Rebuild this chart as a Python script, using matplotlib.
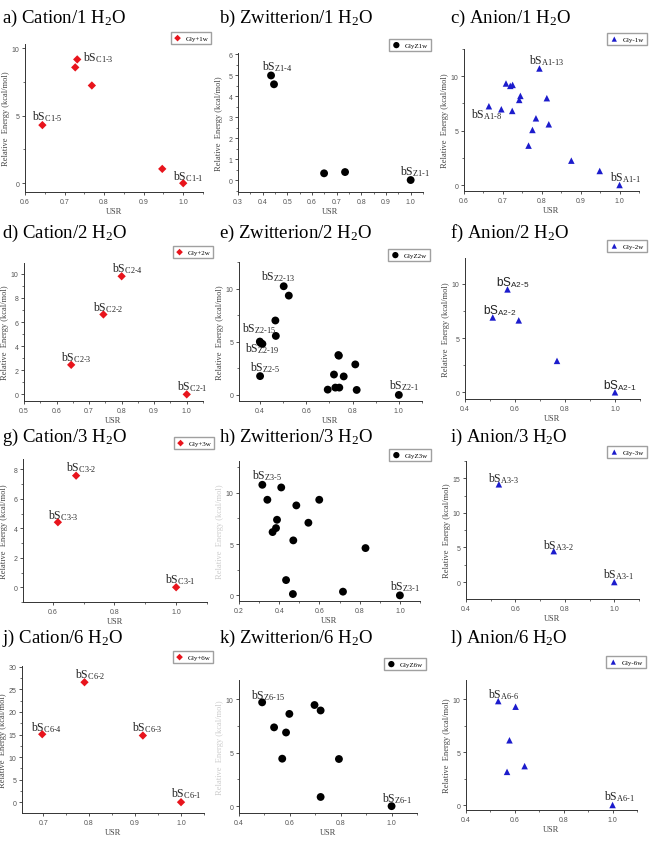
import matplotlib
matplotlib.use("Agg")
import matplotlib.pyplot as plt
from matplotlib.ticker import MultipleLocator, AutoMinorLocator

plt.rcParams['font.family'] = ['Liberation Serif', 'DejaVu Serif']
plt.rcParams['mathtext.fontset'] = 'custom'
plt.rcParams['mathtext.rm'] = 'Liberation Serif'
plt.rcParams['mathtext.it'] = 'Liberation Serif:italic'
plt.rcParams['mathtext.sf'] = 'Liberation Sans'

W, H = 653, 845

# ---- data ----
# a) Cation / 1 H2O
c1_usr = [0.644, 0.727, 0.732, 0.769, 0.947, 1.0]
c1_e = [4.3, 8.57, 9.16, 7.23, 1.06, 0.0]
# b) Zwitterion / 1 H2O
z1_usr = [0.434, 0.446, 0.649, 0.734, 1.0]
z1_e = [4.98, 4.56, 0.32, 0.38, 0.0]
# c) Anion / 1 H2O
a1_usr = [0.664, 0.696, 0.708, 0.719, 0.725, 0.724, 0.742, 0.745, 0.785,
          0.776, 0.766, 0.794, 0.813, 0.818, 0.876, 0.949, 1.0]
a1_e = [7.24, 6.96, 9.33, 9.11, 9.2, 6.81, 7.82, 8.19, 6.13,
        5.06, 3.62, 10.71, 7.98, 5.58, 2.24, 1.29, 0.0]
# d) Cation / 2 H2O
c2_usr = [0.645, 0.744, 0.8, 1.0]
c2_e = [2.45, 6.63, 9.8, 0.0]
# e) Zwitterion / 2 H2O
z2_usr = [0.503, 0.525, 0.467, 0.469, 0.4, 0.403, 0.411, 0.401, 0.739, 0.741,
          0.812, 0.72, 0.762, 0.693, 0.726, 0.743, 0.818, 1.0]
z2_e = [10.22, 9.34, 7.0, 5.55, 5.02, 4.89, 4.8, 1.77, 3.75, 3.69,
        2.87, 1.92, 1.74, 0.5, 0.69, 0.69, 0.47, 0.0]
# f) Anion / 2 H2O
a2_usr = [0.57, 0.511, 0.615, 0.768, 1.0]
a2_e = [9.5, 6.91, 6.64, 2.9, 0.0]
# g) Cation / 3 H2O
c3_usr = [0.676, 0.617, 1.0]
c3_e = [7.57, 4.41, 0.0]
# h) Zwitterion / 3 H2O
z3_usr = [0.316, 0.41, 0.341, 0.485, 0.599, 0.389, 0.384, 0.367, 0.545,
          0.47, 0.829, 0.434, 0.468, 0.717, 1.0]
z3_e = [10.78, 10.52, 9.32, 8.77, 9.32, 7.37, 6.56, 6.17, 7.08,
        5.36, 4.61, 1.49, 0.13, 0.36, 0.0]
# i) Anion / 3 H2O
a3_usr = [0.533, 0.755, 1.0]
a3_e = [14.13, 4.47, 0.0]
# j) Cation / 6 H2O
c6_usr = [0.698, 0.79, 0.917, 1.0]
c6_e = [15.07, 26.6, 14.78, 0.0]
# k) Zwitterion / 6 H2O
z6_usr = [0.491, 0.538, 0.585, 0.57, 0.598, 0.697, 0.721, 0.721, 0.793, 1.0]
z6_e = [9.71, 7.37, 6.89, 4.44, 8.63, 9.46, 8.95, 0.86, 4.41, 0.0]
# l) Anion / 6 H2O
a6_usr = [0.532, 0.603, 0.578, 0.568, 0.64, 1.0]
a6_e = [9.81, 9.28, 6.11, 3.13, 3.67, 0.0]

titles = ["a) Cation/1 H$_2$O", "b) Zwitterion/1 H$_2$O", "c) Anion/1 H$_2$O",
          "d) Cation/2 H$_2$O", "e) Zwitterion/2 H$_2$O", "f) Anion/2 H$_2$O",
          "g) Cation/3 H$_2$O", "h) Zwitterion/3 H$_2$O", "i) Anion/3 H$_2$O",
          "j) Cation/6 H$_2$O", "k) Zwitterion/6 H$_2$O", "l) Anion/6 H$_2$O"]
legends = ["Gly+1w", "GlyZ1w", "Gly-1w", "Gly+2w", "GlyZ2w", "Gly-2w",
           "Gly+3w", "GlyZ3w", "Gly-3w", "Gly+6w", "GlyZ6w", "Gly-6w"]

# point labels: (index of point, subscript, dx px, dy px)
labels = [
    [(0, "C1-5", -10, 9), (2, "C1-3", 6, 3), (5, "C1-1", -10, 8)],
    [(0, "Z1-4", -9, 10), (4, "Z1-1", -11, 9)],
    [(11, "A1-13", -10, 9), (0, "A1-8", -18, -7), (16, "A1-1", -10, 8)],
    [(2, "C2-4", -10, 9), (1, "C2-2", -10, 8), (0, "C2-3", -10, 8), (3, "C2-1", -10, 9)],
    [(0, "Z2-13", -23, 11), (4, "Z2-15", -18, 14), (5, "Z2-19", -16, -5),
     (7, "Z2-5", -10, 10), (17, "Z2-1", -10, 10)],
    [(0, "A2-5", -11, 8), (1, "A2-2", -10, 8), (4, "A2-1", -12, 8)],
    [(0, "C3-2", -10, 9), (1, "C3-3", -10, 8), (2, "C3-1", -11, 9)],
    [(0, "Z3-5", -10, 10), (14, "Z3-1", -10, 10)],
    [(0, "A3-3", -11, 7), (1, "A3-2", -11, 7), (2, "A3-1", -11, 8)],
    [(0, "C6-4", -11, 8), (1, "C6-2", -10, 9), (2, "C6-3", -11, 9), (3, "C6-1", -10, 10)],
    [(0, "Z6-15", -11, 8), (9, "Z6-1", -10, 9)],
    [(0, "A6-6", -10, 7), (5, "A6-1", -9, 9)],
]

series = [(c1_usr, c1_e), (z1_usr, z1_e), (a1_usr, a1_e),
          (c2_usr, c2_e), (z2_usr, z2_e), (a2_usr, a2_e),
          (c3_usr, c3_e), (z3_usr, z3_e), (a3_usr, a3_e),
          (c6_usr, c6_e), (z6_usr, z6_e), (a6_usr, a6_e)]

# axes boxes in pixels (left, top, right, bottom), limits and tick steps
boxes = [(25, 45, 203, 193), (238, 54, 423, 193), (464, 50, 639, 192),
         (24, 264, 203, 402), (239, 263, 422, 402), (465, 259, 640, 400),
         (23, 460, 207, 603), (239, 462, 420, 602), (466, 462, 639, 600),
         (22, 667, 204, 814), (239, 681, 417, 814), (466, 681, 637, 811)]
xlims = [(0.6, 1.05), (0.3, 1.05), (0.6, 1.05),
         (0.5, 1.05), (0.31, 1.1), (0.4, 1.1),
         (0.504, 1.1), (0.2, 1.1), (0.4, 1.1),
         (0.654, 1.05), (0.4, 1.1), (0.4, 1.1)]
ylims = [(-0.65, 10.3), (-0.57, 6.05), (-0.55, 12.5),
         (-0.55, 10.9), (-0.57, 12.5), (-0.62, 12.4),
         (-1.0, 8.7), (-0.55, 13.1), (-2.45, 17.5),
         (-2.4, 30.2), (-0.64, 11.8), (-0.47, 11.8)]
xsteps = [0.1, 0.1, 0.1, 0.1, 0.2, 0.2, 0.2, 0.2, 0.2, 0.1, 0.2, 0.2]
ysteps = [5, 1, 5, 2, 5, 5, 2, 5, 5, 5, 5, 5]
legend_pos = [(191, 39), (410, 46), (627, 40), (193, 253), (409, 256), (627, 247),
              (194, 444), (410, 456), (627, 453), (193, 658), (405, 665), (626, 663)]
title_pos = [(2, 18), (219, 18), (450, 18), (2, 233), (219, 233), (450, 233),
             (2, 437), (219, 437), (450, 437), (2, 638), (219, 638), (450, 638)]

kinds = ["C", "Z", "A"]
mstyle = {"C": dict(marker="D", s=18, color="#e8141c"),
          "Z": dict(marker="o", s=32, color="black"),
          "A": dict(marker="^", s=22, color="#1c1ccc")}

fig = plt.figure(figsize=(W / 100, H / 100), dpi=100)

for i in range(12):
    l, t, r, b = boxes[i]
    ax = fig.add_axes([l / W, 1 - b / H, (r - l) / W, (b - t) / H])
    kind = kinds[i % 3]
    x, y = series[i]
    ax.scatter(x, y, zorder=3, edgecolors="none", label=legends[i], **mstyle[kind])
    ax.set_xlim(*xlims[i])
    ax.set_ylim(*ylims[i])
    ax.xaxis.set_major_locator(MultipleLocator(xsteps[i]))
    ax.yaxis.set_major_locator(MultipleLocator(ysteps[i]))
    ax.xaxis.set_minor_locator(AutoMinorLocator(2))
    ax.yaxis.set_minor_locator(AutoMinorLocator(2))
    for s in ["top", "right"]:
        ax.spines[s].set_visible(False)
    for s in ["left", "bottom"]:
        ax.spines[s].set_linewidth(0.7)
        ax.spines[s].set_color("#333333")
    ax.tick_params(which="major", length=2.5, width=0.6, colors="#333333",
                   labelsize=5, labelcolor="#555555", pad=1.5)
    ax.tick_params(which="minor", length=1.5, width=0.5, colors="#333333")
    for lab in ax.get_xticklabels() + ax.get_yticklabels():
        lab.set_family(["Liberation Sans", "DejaVu Sans"])
    ylab_col = "#cccccc" if i in (7, 10) else "#444444"
    ax.set_ylabel("Relative  Energy (kcal/mol)", fontsize=6, color=ylab_col)
    ax.yaxis.set_label_coords(-15 / (r - l), 0.5)
    ax.set_xlabel("USR", fontsize=6, color="#444444", labelpad=1.5)

    fam = ["Liberation Sans", "DejaVu Sans"] if i == 5 else ["Liberation Serif", "DejaVu Serif"]
    for idx, sub, dx, dy in labels[i]:
        a, b2 = sub.split("-")
        style = "\\mathsf" if i == 5 else "\\mathrm"
        txt = "bS$_{" + style + "{" + a + "\\text{-}" + b2 + "}}$"
        ax.annotate(txt, xy=(x[idx], y[idx]), xytext=(dx, dy), textcoords="offset pixels",
                    ha="left", va="center", fontsize=8.5, family=fam, color="#222222")

    lx, ly = legend_pos[i]
    ax.legend(loc="center", bbox_to_anchor=(lx / W, 1 - ly / H), bbox_transform=fig.transFigure,
              fontsize=5, frameon=True, fancybox=False, edgecolor="#888888",
              handletextpad=0.6, borderpad=0.4, handlelength=1.2, markerscale=0.8)

    tx, ty = title_pos[i]
    fig.text(tx / W, 1 - ty / H, titles[i], fontsize=13.5, ha="left", va="center",
             family=["Liberation Serif", "DejaVu Serif"])

fig.savefig("out.png", dpi=100)
